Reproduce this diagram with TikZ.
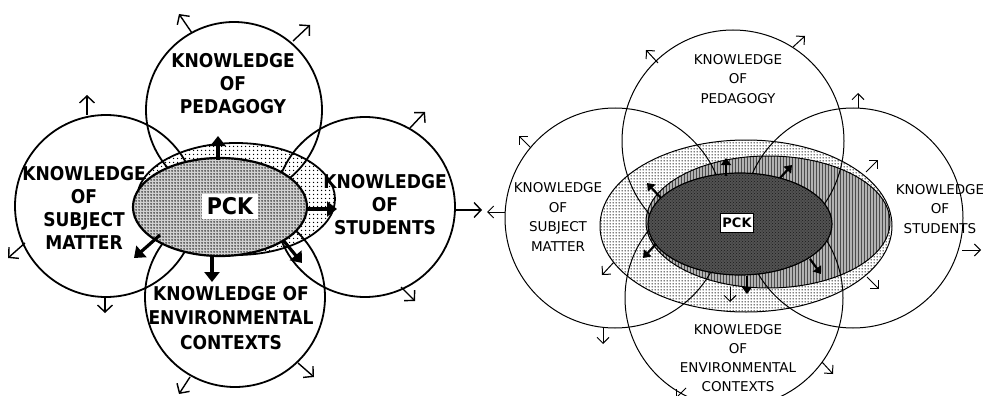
\documentclass[tikz,border=0pt]{standalone}
\usepackage{fontspec}
\setmainfont{DejaVu Sans}
\newfontfamily\lfont{DejaVu Sans Condensed}
\usetikzlibrary{arrows.meta,patterns,patterns.meta}
\tikzdeclarepattern{
  name=sparsedots,
  bounding box={(0pt,0pt) and (4pt,4pt)},
  tile size={(4pt,4pt)},
  code={\pgfpathcircle{\pgfpoint{2pt}{2pt}}{0.9pt}\pgfusepath{fill}}
}
\tikzdeclarepattern{
  name=densedots,
  bounding box={(0pt,0pt) and (2.5pt,2.5pt)},
  tile size={(2.5pt,2.5pt)},
  code={\pgfpathcircle{\pgfpoint{1.25pt}{1.25pt}}{0.9pt}\pgfusepath{fill}}
}
\tikzdeclarepattern{
  name=middots,
  bounding box={(0pt,0pt) and (3pt,3pt)},
  tile size={(3pt,3pt)},
  code={\pgfpathcircle{\pgfpoint{1.5pt}{1.5pt}}{0.95pt}\pgfusepath{fill}}
}
\tikzset{
  thinarr/.style={line width=1.4pt,-{Straight Barb[length=7pt,width=15pt,line width=1.4pt]}},
  thinarrR/.style={line width=1pt,-{Straight Barb[length=6pt,width=12pt,line width=1pt]}},
  boldarr/.style={line width=3.2pt,-{Triangle[length=10pt,width=15pt]}},
  boldarrR/.style={line width=2.2pt,-{Triangle[length=7pt,width=10pt]}},
  lcirc/.style={line width=1.8pt},
  rcirc/.style={line width=1pt},
  ltext/.style={align=center,font=\lfont\bfseries\fontsize{19}{23}\selectfont,inner sep=0pt},
  rtext/.style={align=center,font=\fontsize{13.5}{19.5}\selectfont,inner sep=0pt},
}
\begin{document}
\begin{tikzpicture}[x=1pt,y=-1pt]
\fill[white] (0,0) rectangle (983,396);
\useasboundingbox (0,0) rectangle (983,396);
% ---------------- left diagram ----------------
\path[pattern=sparsedots] (236,199) ellipse[x radius=99pt,y radius=56pt];
\draw[lcirc] (236,199) ellipse[x radius=99pt,y radius=56pt];
\draw[lcirc] (234,110) circle[radius=88pt];
\draw[lcirc] (106,206) circle[radius=91pt];
\draw[lcirc] (365,207) circle[radius=90pt];
\draw[lcirc] (235,297) circle[radius=90pt];
\fill[black!18] (220,207) ellipse[x radius=87pt,y radius=49pt];
\path[pattern=densedots] (220,207) ellipse[x radius=87pt,y radius=49pt];
\draw[line width=2.2pt] (220,207) ellipse[x radius=87pt,y radius=49pt];
\node[fill=white,minimum width=56pt,minimum height=25pt,inner sep=0pt,font=\lfont\bfseries\fontsize{23}{23}\selectfont] (pckL) at (230,206) {PCK};
\node[ltext] (pedL) at (233,84) {KNOWLEDGE\\OF\\PEDAGOGY};
\node[ltext] (subL) at (84,208) {KNOWLEDGE\\OF\\SUBJECT\\MATTER};
\node[ltext] (stuL) at (385,205) {KNOWLEDGE\\OF\\STUDENTS};
\node[ltext,font=\lfont\bfseries\fontsize{19}{24.5}\selectfont] (envL) at (231,318) {KNOWLEDGE OF\\ENVIRONMENTAL\\CONTEXTS};
% bold arrows
\draw[boldarr] (218,160) -- (218,136);
\draw[boldarr] (306,209) -- (337,209);
\draw[boldarr] (160,235) -- (134,258);
\draw[boldarr] (212,256) -- (212,282);
\draw[boldarr] (283,240) -- (302,263);
% thin arrows
\draw[thinarr] (192,33) -- (179,14);
\draw[thinarr] (293,41) -- (310,25);
\draw[thinarr] (87,115) -- (87,95);
\draw[thinarr] (25,243) -- (8,258);
\draw[thinarr] (105,297) -- (105,313);
\draw[thinarr] (410,128) -- (425,112);
\draw[thinarr] (455,210) -- (482,210);
\draw[thinarr] (401,287) -- (415,301);
\draw[thinarr] (298,363) -- (314,377);
\draw[thinarr] (190,377) -- (179,394);
% ---------------- right diagram ----------------
\path[pattern=middots] (746,226) ellipse[x radius=146pt,y radius=86pt];
\draw[rcirc] (746,226) ellipse[x radius=146pt,y radius=86pt];
\fill[black!30] (768,222) ellipse[x radius=122pt,y radius=66pt];
\path[pattern=vertical lines,pattern color=black!70] (768,222) ellipse[x radius=122pt,y radius=66pt];
\draw[rcirc] (768,222) ellipse[x radius=122pt,y radius=66pt];
\draw[rcirc] (733,141) circle[radius=111pt];
\draw[rcirc] (615,218) circle[radius=110pt];
\draw[rcirc] (853,218) circle[radius=110pt];
\draw[rcirc] (734,298) circle[radius=109pt];
\fill[black!68] (740,224) ellipse[x radius=92pt,y radius=51pt];
\path[pattern=crosshatch dots,pattern color=black!90] (740,224) ellipse[x radius=92pt,y radius=51pt];
\draw[line width=1.2pt] (740,224) ellipse[x radius=92pt,y radius=51pt];
\node[fill=white,draw=black,line width=1pt,minimum width=33pt,minimum height=19pt,inner sep=0pt,font=\bfseries\fontsize{13}{13}\selectfont] (pckR) at (737,223) {PCK};
\node[rtext] (pedR) at (738,79) {KNOWLEDGE\\OF\\PEDAGOGY};
\node[rtext] (subR) at (558,217) {KNOWLEDGE\\OF\\SUBJECT\\MATTER};
\node[rtext] (stuR) at (940,209) {KNOWLEDGE\\OF\\STUDENTS};
\node[rtext,font=\fontsize{13.5}{19}\selectfont] (envR) at (738,358) {KNOWLEDGE\\OF\\ENVIRONMENTAL\\CONTEXTS};
% bold arrows
\draw[boldarrR] (726,176) -- (726,158);
\draw[boldarrR] (780,178) -- (792,165);
\draw[boldarrR] (661,198) -- (647,183);
\draw[boldarrR] (656,244) -- (643,258);
\draw[boldarrR] (810,259) -- (821,274);
\draw[boldarrR] (747,276) -- (747,294);
% thin arrows
\draw[thinarrR] (658,63) -- (646,50);
\draw[thinarrR] (793,47) -- (805,36);
\draw[thinarrR] (531,148) -- (519,136);
\draw[thinarrR] (505,212) -- (487,212);
\draw[thinarrR] (603,328) -- (603,344);
\draw[thinarrR] (858,108) -- (858,93);
\draw[thinarrR] (962,250) -- (981,250);
\draw[thinarrR] (866,172) -- (878,160);
\draw[thinarrR] (867,277) -- (879,289);
\draw[thinarrR] (614,262) -- (602,275);
\draw[thinarrR] (730,287) -- (730,302);
\draw[thinarrR] (822,362) -- (833,374);
\draw[thinarrR] (686,388) -- (676,398);
\end{tikzpicture}
\end{document}
